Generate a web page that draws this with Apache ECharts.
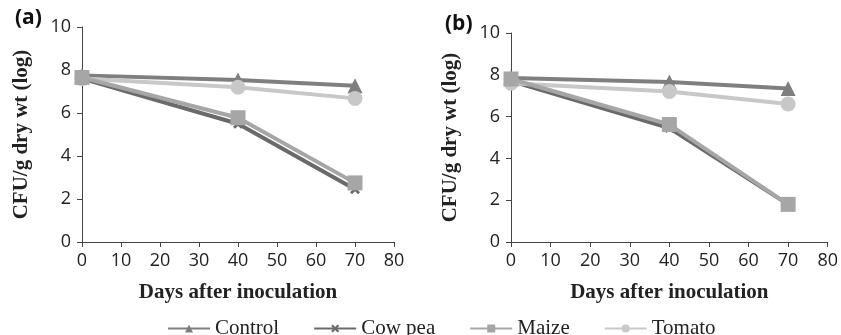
<!DOCTYPE html>
<html>
<head>
<meta charset="utf-8">
<script src="https://cdn.jsdelivr.net/npm/echarts@6/dist/echarts.min.js"></script>
<style>
  html, body { margin: 0; padding: 0; background: #fff; }
  #chart { width: 841px; height: 335px; }
</style>
</head>
<body>
<div id="chart"></div>
<script>
const days = [0, 40, 70];
const seriesNames = ['Control', 'Cow pea', 'Maize', 'Tomato'];

// panel (a)
const controlA = [7.75, 7.53, 7.27];
const cowpeaA = [7.6, 5.5, 2.45];
const maizeA = [7.65, 5.78, 2.75];
const tomatoA = [7.6, 7.2, 6.68];

// panel (b)
const controlB = [7.85, 7.65, 7.35];
const cowpeaB = [7.7, 5.45, 1.8];
const maizeB = [7.8, 5.62, 1.8];
const tomatoB = [7.6, 7.2, 6.6];

const colors = ['#7f7f7f', '#6a6a6a', '#a6a6a6', '#c8c8c8'];
const symbols = [
  'triangle',
  'path://M0,2L2,0L5,3L8,0L10,2L7,5L10,8L8,10L5,7L2,10L0,8L3,5Z',
  'rect',
  'circle'
];
const symbolSizes = [15, 10, 15, 15];
const zs = [2, 2, 4, 3];

const pair = (vals) => days.map((d, i) => [d, vals[i]]);

const chart = echarts.init(document.getElementById('chart'));

const tickFont = { fontFamily: 'Open Sans', fontSize: 18, color: '#222' };
const titleFont = { fontFamily: 'Liberation Serif', fontSize: 21, fontWeight: 'bold', color: '#222' };
const axisLine = { show: true, lineStyle: { color: '#444', width: 1 } };

function xAxis(grid) {
  return {
    type: 'value', gridIndex: grid, min: 0, max: 80, interval: 10,
    name: 'Days after inoculation', nameLocation: 'middle', nameGap: 40,
    nameTextStyle: titleFont,
    axisLine: axisLine,
    axisTick: { show: true, length: 5, lineStyle: { color: '#444' } },
    axisLabel: Object.assign({ margin: 10 }, tickFont),
    splitLine: { show: false }
  };
}
function yAxis(grid) {
  return {
    type: 'value', gridIndex: grid, min: 0, max: 10, interval: 2,
    name: 'CFU/g dry wt (log)', nameLocation: 'middle', nameGap: 50,
    nameTextStyle: titleFont,
    axisLine: axisLine,
    axisTick: { show: true, length: 5, lineStyle: { color: '#444' } },
    axisLabel: Object.assign({ margin: 11 }, tickFont),
    splitLine: { show: false }
  };
}

const dataA = [controlA, cowpeaA, maizeA, tomatoA];
const dataB = [controlB, cowpeaB, maizeB, tomatoB];

const series = [];
[dataA, dataB].forEach((set, g) => {
  set.forEach((vals, i) => {
    series.push({
      name: seriesNames[i],
      type: 'line',
      xAxisIndex: g, yAxisIndex: g,
      data: pair(vals),
      symbol: symbols[i],
      symbolSize: symbolSizes[i],
      z: zs[i],
      lineStyle: { color: colors[i], width: 4 },
      itemStyle: { color: colors[i] },
      emphasis: { disabled: true }
    });
  });
});

chart.setOption({
  animation: false,
  color: colors,
  title: [
    { text: '(a)', left: 10, top: 3, textStyle: { fontFamily: 'Open Sans', fontSize: 21, fontWeight: 'bold', color: '#111' } },
    { text: '(b)', left: 440, top: 9, textStyle: { fontFamily: 'Open Sans', fontSize: 21, fontWeight: 'bold', color: '#111' } }
  ],
  grid: [
    { left: 82, right: 447, top: 27, bottom: 93 },
    { left: 511, right: 12, top: 33, bottom: 93 }
  ],
  xAxis: [xAxis(0), xAxis(1)],
  yAxis: [yAxis(0), yAxis(1)],
  legend: {
    data: seriesNames,
    left: 162, top: 313,
    itemWidth: 42, itemHeight: 10, itemGap: 34,
    textStyle: { fontFamily: 'Liberation Serif', fontSize: 21, color: '#222' }
  },
  series: series
});
</script>
</body>
</html>
